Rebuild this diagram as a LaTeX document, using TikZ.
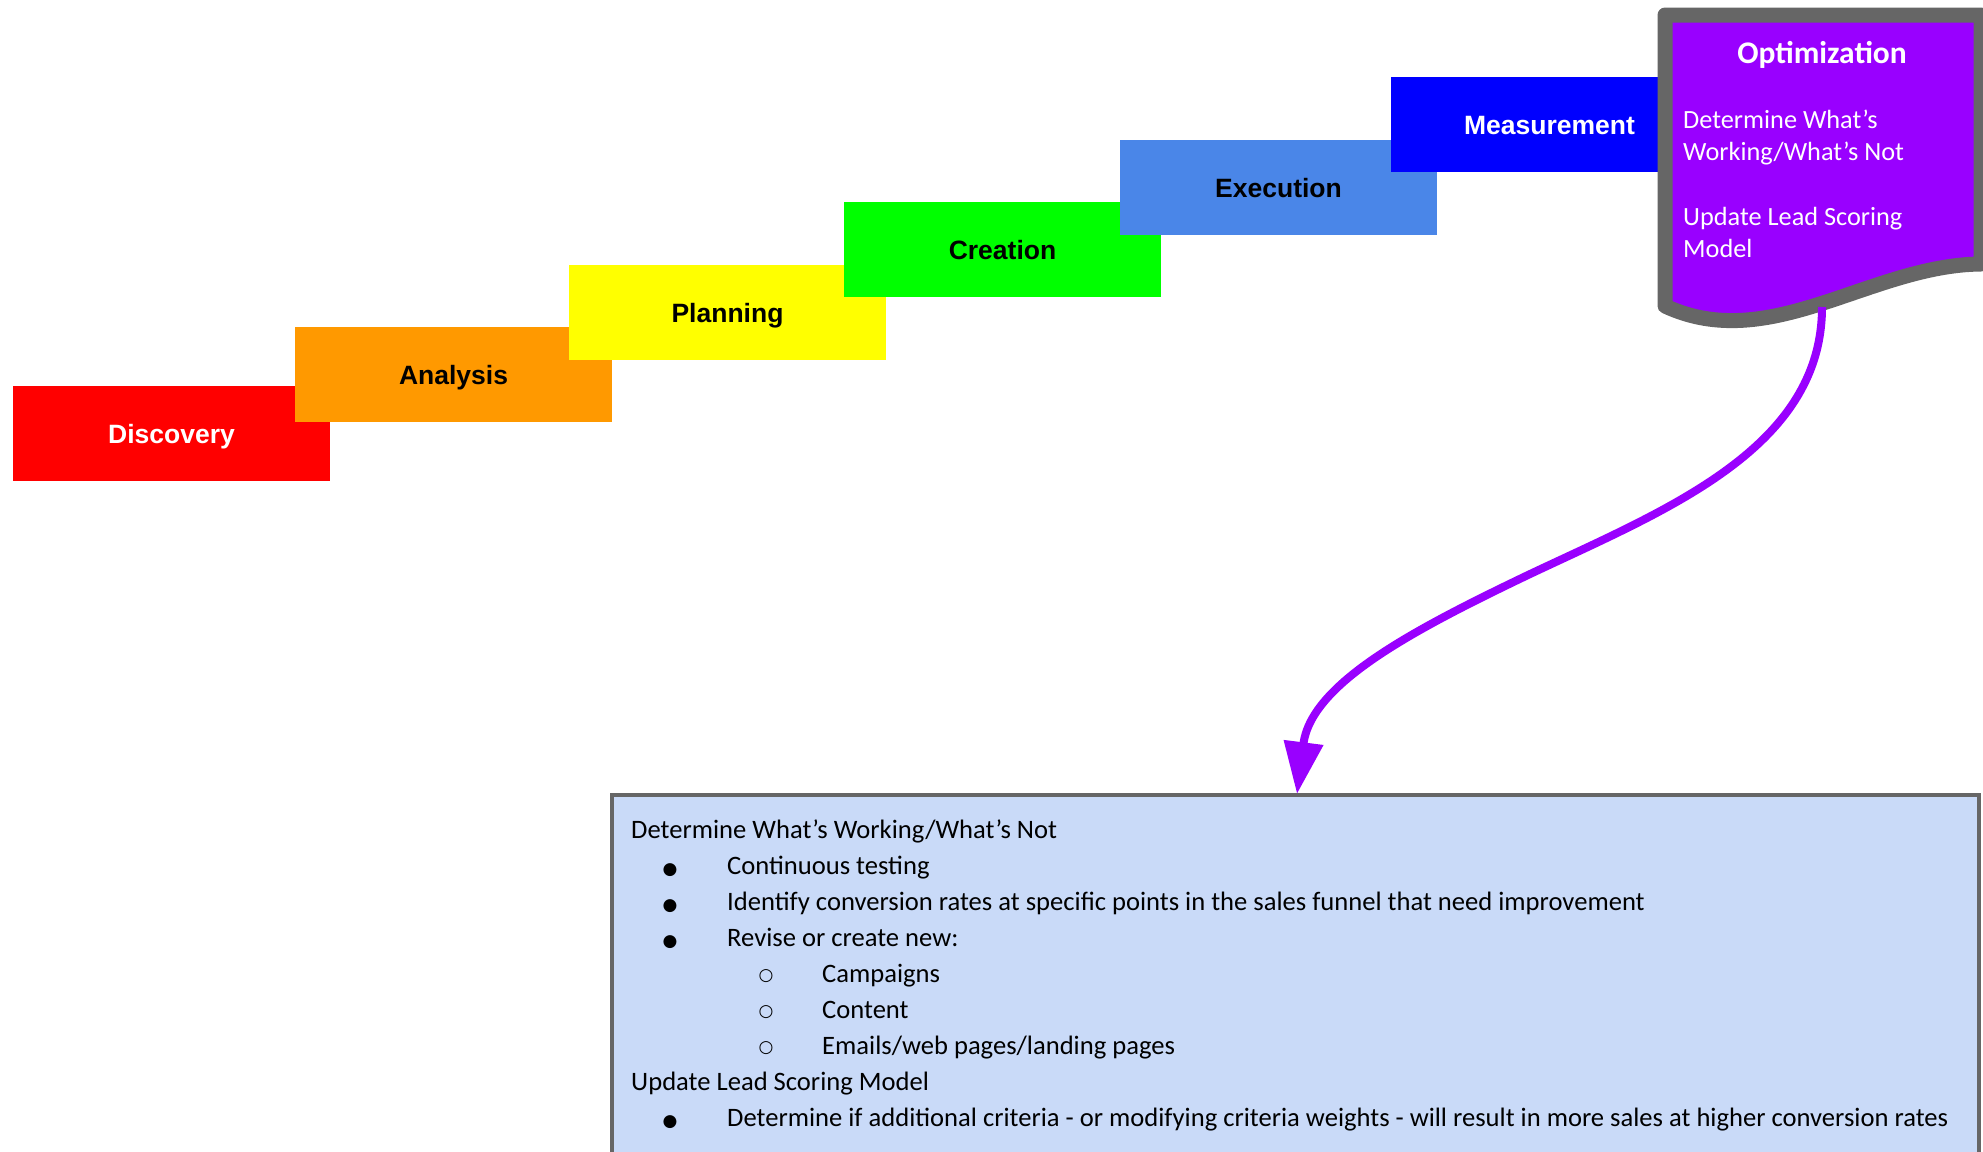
\documentclass[tikz,border=0pt]{standalone}
\usepackage{fontspec}
\setmainfont{Carlito}
\newfontfamily\labelfont{Liberation Sans}
\newfontfamily\symfont{DejaVu Sans}
\usetikzlibrary{arrows.meta}

\definecolor{cDisc}{HTML}{FF0000}
\definecolor{cAna}{HTML}{FF9900}
\definecolor{cPlan}{HTML}{FFFF00}
\definecolor{cCrea}{HTML}{00FF00}
\definecolor{cExec}{HTML}{4A86E8}
\definecolor{cMeas}{HTML}{0000FF}
\definecolor{cOpt}{HTML}{9900FF}
\definecolor{cBorder}{HTML}{666666}
\definecolor{cNotes}{HTML}{C9DAF8}

\begin{document}
\begin{tikzpicture}[x=1pt,y=-1pt,
  stepbox/.style={anchor=north west, minimum width=317pt, minimum height=95pt,
    inner sep=0pt, outer sep=0pt, text height=19pt, text depth=0pt,
    font=\labelfont\bfseries\fontsize{26.5}{30}\selectfont},
  optline/.style={anchor=base west, inner sep=0pt, text=white,
    font=\fontsize{26.3}{32}\selectfont},
  noteline/.style={anchor=base west, inner sep=0pt,
    font=\fontsize{26.6}{36}\selectfont},
  dotmark/.style={anchor=base, inner sep=0pt,
    font=\symfont\fontsize{17}{17}\selectfont},
  ringmark/.style={dotmark, yshift=1.5pt},
  flow/.style={draw=cOpt, line width=8pt,
    -{Triangle[length=52pt,width=38pt]}}]

\useasboundingbox (0,0) rectangle (1983,1151);

% staircase of phases
\node[stepbox, fill=cDisc, text=white] (disc) at (13,386) {Discovery};
\node[stepbox, fill=cAna] (ana) at (295,327) {Analysis};
\node[stepbox, fill=cPlan] (plan) at (569,265) {Planning};
\node[stepbox, fill=cCrea] (crea) at (844,202) {Creation};
\node[stepbox, fill=cExec] (exec) at (1120,140) {Execution};
\node[stepbox, fill=cMeas, text=white] (meas) at (1391,77) {Measurement};

% optimization document shape
\path[draw=cBorder, fill=cOpt, line width=15pt, line join=round]
  (1665,15) -- (1981,15) -- (1981,264)
  .. controls (1870,265) and (1770,355) .. (1665,306) -- cycle;
\node[anchor=base, inner sep=0pt, text=white,
  font=\bfseries\fontsize{31.5}{36}\selectfont] (opttitle) at (1822,63) {Optimization};
\node[optline] (opt1) at (1683,128) {Determine What’s};
\node[optline] (opt2) at (1683,160) {Working/What’s Not};
\node[optline] (opt3) at (1683,225) {Update Lead Scoring};
\node[optline] (opt4) at (1683,257) {Model};
\coordinate (optfoot) at (1822,307);

% details box
\node[draw=cBorder, fill=cNotes, line width=4pt, anchor=north west,
  minimum width=1367pt, minimum height=380pt, inner sep=0pt, outer sep=0pt]
  (notes) at (612,795) {};
\coordinate (notetip) at (1297,794);

\node[noteline] (n0) at (631,838) {Determine What’s Working/What’s Not};
\node[dotmark] (d1) at (670,874) {●};
\node[noteline] (n1) at (727,874) {Continuous testing};
\node[dotmark] (d2) at (670,910) {●};
\node[noteline] (n2) at (727,910) {Identify conversion rates at specific points in the sales funnel that need improvement};
\node[dotmark] (d3) at (670,946) {●};
\node[noteline] (n3) at (727,946) {Revise or create new:};
\node[ringmark] (s4) at (766,982) {○};
\node[noteline] (n4) at (822,982) {Campaigns};
\node[ringmark] (s5) at (766,1018) {○};
\node[noteline] (n5) at (822,1018) {Content};
\node[ringmark] (s6) at (766,1054) {○};
\node[noteline] (n6) at (822,1054) {Emails/web pages/landing pages};
\node[noteline] (n7) at (631,1090) {Update Lead Scoring Model};
\node[dotmark] (d8) at (670,1126) {●};
\node[noteline] (n8) at (727,1126) {Determine if additional criteria - or modifying criteria weights - will result in more sales at higher conversion rates};

% connector from the optimization shape down to the details
\draw[flow] (optfoot) .. controls (1822,450) and (1663,511) .. (1528,575)
  .. controls (1411,631) and (1311,684) .. (notetip);

\end{tikzpicture}
\end{document}
